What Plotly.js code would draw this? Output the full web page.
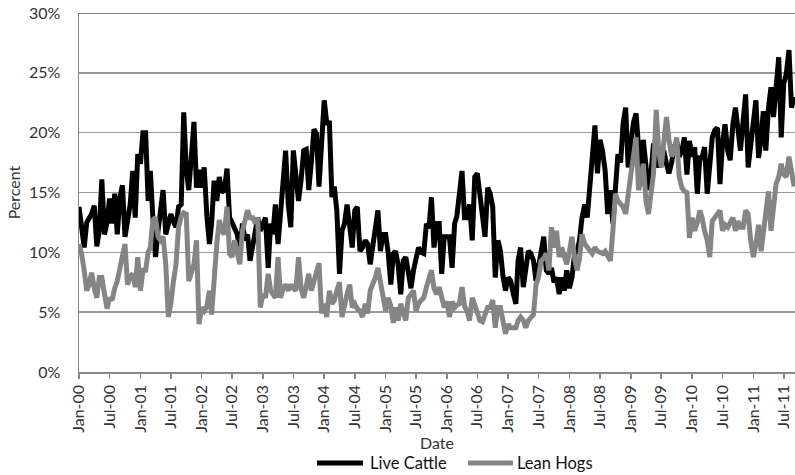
<!DOCTYPE html>
<html>
<head>
<meta charset="utf-8">
<script src="https://cdn.plot.ly/plotly-3.0.1.min.js"></script>
<style>html,body{margin:0;padding:0;background:#fff;}#chart{width:795px;height:475px;}</style>
</head>
<body>
<div id="chart"></div>
<script>
// Semi-monthly readings (1st and 16th of each month), percent
const lc2000 = [13.8,12.0,10.4,12.5,12.8,13.2,13.9,10.5,11.8,16.1,11.5,12.5,14.5,12.4,14.9,11.5,14.6,15.6,11.3,12.8,14.0,16.8,12.9,18.2];
const lc2001 = [17.4,20.0,20.0,14.3,16.8,12.9,9.6,11.8,13.5,15.2,11.5,12.4,13.2,12.6,12.1,13.8,14.0,21.7,17.0,15.2,18.5,20.9,15.4,16.9];
const lc2002 = [15.4,17.1,13.0,10.7,12.4,16.0,14.3,16.3,15.0,15.2,17.0,12.9,12.5,12.1,11.5,10.1,12.4,11.0,11.5,9.3,10.4,11.5,12.9,11.8];
const lc2003 = [12.5,12.9,8.7,12.4,11.5,14.0,10.7,13.5,16.3,18.5,14.0,12.1,18.5,16.6,14.3,16.0,18.5,18.6,15.2,17.5,20.3,19.9,15.5,19.0];
const lc2004 = [22.7,20.8,20.8,14.6,15.5,13.5,8.2,11.8,12.4,14.0,12.0,10.4,13.5,13.8,10.1,10.4,11.0,10.7,9.0,10.5,11.8,13.5,10.1,11.5];
const lc2005 = [11.5,10.0,7.3,9.9,10.1,9.0,6.5,9.3,9.6,8.0,7.0,8.5,9.6,10.4,10.0,9.9,12.4,12.0,14.6,10.4,12.4,12.4,8.2,11.3];
const lc2006 = [11.3,11.3,8.7,12.4,13.0,14.6,16.8,12.9,12.9,14.0,11.0,16.3,16.6,14.9,13.0,11.3,15.4,14.9,13.8,7.9,11.0,10.1,8.0,6.8];
const lc2007 = [7.9,7.6,6.5,5.7,9.3,10.4,7.1,9.0,10.1,9.9,9.3,7.6,9.0,10.4,11.3,8.5,8.2,8.7,7.5,7.9,6.5,7.9,6.8,8.5];
const lc2008 = [7.0,7.9,9.9,10.1,11.0,12.9,14.0,12.9,15.4,18.5,20.6,16.6,19.4,18.5,16.8,13.2,15.2,12.4,15.2,18.2,17.5,20.8,22.1,17.1];
const lc2009 = [19.0,20.8,21.6,19.1,16.3,19.4,17.0,15.2,16.6,19.1,18.0,17.1,17.9,18.5,17.4,16.6,17.5,18.8,19.3,18.0,18.5,19.6,16.5,19.3];
const lc2010 = [18.0,18.8,14.9,17.9,17.9,18.8,14.9,18.0,19.6,20.2,20.4,15.7,19.1,20.7,18.5,17.7,20.7,22.1,20.0,18.5,21.0,23.2,17.1,19.0];
const lc2011 = [20.2,22.7,17.9,19.5,21.8,18.5,22.1,23.8,21.3,24.0,26.3,19.6,24.1,24.9,26.9,22.1,23.0];

const lh2000 = [10.7,9.9,8.5,6.8,7.3,8.3,7.0,6.2,7.9,7.9,6.5,5.3,6.2,6.0,7.0,7.6,8.7,9.5,10.7,7.3,8.0,8.2,7.1,9.6];
const lh2001 = [6.8,8.5,8.5,10.0,10.4,12.7,12.9,11.3,11.0,11.3,9.0,4.6,5.7,7.5,9.0,12.1,13.0,13.3,13.2,7.6,8.5,9.0,11.0,4.0];
const lh2002 = [5.4,5.1,5.5,6.8,4.8,7.9,10.7,12.7,11.8,11.5,13.8,9.9,9.6,11.0,10.0,9.0,11.8,12.5,13.5,12.9,12.9,12.4,12.9,5.4];
const lh2003 = [6.5,6.2,8.2,6.8,6.5,6.2,9.6,6.2,7.0,7.3,6.8,7.3,7.0,6.8,9.6,7.0,6.2,7.3,8.2,6.8,7.5,8.5,9.1,4.9];
const lh2004 = [5.7,4.6,6.8,5.7,6.0,6.8,7.5,4.6,5.7,6.5,7.3,5.4,5.7,5.3,5.1,4.6,5.7,4.9,6.8,7.3,7.9,8.7,7.5,6.8];
const lh2005 = [5.1,6.2,5.5,4.1,5.4,4.3,5.7,5.0,4.3,6.2,6.5,6.8,5.1,5.7,6.0,6.2,7.1,7.9,8.5,7.0,6.5,7.1,6.2,5.4];
const lh2006 = [5.9,4.6,5.9,5.4,5.6,5.7,7.1,5.5,5.1,4.3,6.2,5.4,5.0,4.3,4.2,4.8,5.4,5.4,6.0,3.7,5.4,5.4,4.5,3.2];
const lh2007 = [4.0,3.7,3.7,3.7,4.3,4.6,4.3,3.7,4.3,4.5,4.8,7.3,7.9,9.3,9.5,9.9,8.5,12.1,10.4,11.8,9.6,10.4,9.5,9.0];
const lh2008 = [10.1,11.3,9.5,8.5,9.5,11.5,10.7,10.4,10.2,9.9,10.4,10.1,10.0,9.9,10.1,9.6,9.3,11.8,14.9,14.3,14.0,13.8,13.2,15.2];
const lh2009 = [16.5,18.0,19.6,15.2,16.0,17.4,14.3,13.2,15.0,16.6,21.9,18.5,17.1,19.5,21.3,19.4,18.0,18.5,19.6,16.3,15.4,15.1,15.0,11.2];
const lh2010 = [12.9,11.8,12.5,13.5,12.9,11.8,11.0,9.6,12.6,12.9,13.2,13.5,11.8,12.3,12.1,12.5,12.9,11.8,12.6,12.1,12.1,13.5,13.2,11.0];
const lh2011 = [9.6,10.7,12.3,10.1,11.5,12.9,15.1,11.8,14.0,15.7,16.3,17.4,16.5,16.3,18.0,16.5,15.5];

const years = [2000,2001,2002,2003,2004,2005,2006,2007,2008,2009,2010,2011];
const lcByYear = [lc2000,lc2001,lc2002,lc2003,lc2004,lc2005,lc2006,lc2007,lc2008,lc2009,lc2010,lc2011];
const lhByYear = [lh2000,lh2001,lh2002,lh2003,lh2004,lh2005,lh2006,lh2007,lh2008,lh2009,lh2010,lh2011];
const seriesNames = ['Live Cattle','Lean Hogs'];
const seriesColors = ['#000000', '#858585'];

function semiDates(year, n) {
  const out = [];
  for (let k = 0; k < n; k++) {
    const m = Math.floor(k / 2) + 1;
    out.push(year + '-' + String(m).padStart(2, '0') + '-' + (k % 2 ? '16' : '01'));
  }
  return out;
}
function build(byYear) {
  const x = [], y = [];
  years.forEach((yr, i) => {
    const vals = byYear[i];
    x.push(...semiDates(yr, vals.length));
    y.push(...vals);
  });
  return {x, y};
}
const lc = build(lcByYear);
const lh = build(lhByYear);

const font = 'Lato, "Open Sans", Arial, sans-serif';
const data = [
  {x: lc.x, y: lc.y, name: seriesNames[0], type: 'scatter', mode: 'lines',
   line: {color: seriesColors[0], width: 5}},
  {x: lh.x, y: lh.y, name: seriesNames[1], type: 'scatter', mode: 'lines',
   line: {color: seriesColors[1], width: 5}}
];

// custom legend (longer line keys as in the reference)
const legY = -0.2535;
const legItems = [
  {x0: 0.3324, x1: 0.3966, tx: 0.4036},
  {x0: 0.5433, x1: 0.6061, tx: 0.6089}
];
const shapes = [{type: 'line', xref: 'paper', yref: 'y', x0: 0, x1: 1, y0: 30, y1: 30,
                 line: {color: '#555', width: 1.5}}];
const annotations = [];
legItems.forEach((it, i) => {
  shapes.push({type: 'line', xref: 'paper', yref: 'paper', x0: it.x0, x1: it.x1, y0: legY, y1: legY,
               line: {color: seriesColors[i], width: 5}});
  annotations.push({xref: 'paper', yref: 'paper', x: it.tx, y: legY, xanchor: 'left', yanchor: 'middle',
                    text: seriesNames[i], showarrow: false,
                    font: {family: font, size: 16.5, color: '#111'}});
});

const layout = {
  width: 795, height: 475,
  margin: {l: 79, r: 0, t: 13, b: 103, pad: 0},
  paper_bgcolor: '#fff', plot_bgcolor: '#fff',
  font: {family: font, size: 16, color: '#333'},
  showlegend: false,
  xaxis: {
    type: 'date', range: ['2000-01-01', '2011-09-06'],
    tick0: '2000-01-01', dtick: 'M6', tickformat: '%b-%y', tickangle: -90,
    ticks: 'outside', ticklen: 5, tickcolor: '#888', tickwidth: 1.5,
    showline: true, linecolor: '#888', linewidth: 1.5,
    showgrid: false, zeroline: false,
    tickfont: {family: font, size: 16, color: '#333'},
    title: {text: 'Date', font: {family: font, size: 16, color: '#333'}, standoff: 5}
  },
  yaxis: {
    range: [0, 30], dtick: 5, ticksuffix: '%',
    showgrid: true, gridcolor: '#999', gridwidth: 1.5,
    showline: true, linecolor: '#888', linewidth: 1.5,
    zeroline: false, ticks: '', ticklabelstandoff: 14,
    tickfont: {family: font, size: 16, color: '#333'},
    title: {text: 'Percent', font: {family: font, size: 16, color: '#333'}, standoff: 4}
  },
  shapes: shapes,
  annotations: annotations
};
Plotly.newPlot('chart', data, layout, {displayModeBar: false, staticPlot: true});
</script>
</body>
</html>
